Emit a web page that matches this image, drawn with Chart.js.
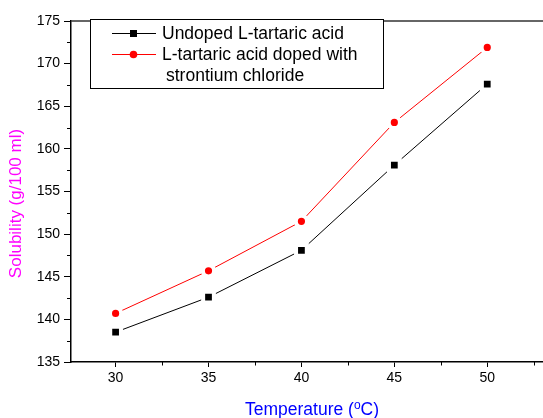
<!DOCTYPE html>
<html>
<head>
<meta charset="utf-8">
<script src="https://cdn.jsdelivr.net/npm/chart.js@4"></script>
<style>
body { margin: 0; background: #fff; }
#wrap { width: 543px; height: 418px; }
</style>
</head>
<body>
<div id="wrap"><canvas id="solChart" width="543" height="418"></canvas></div>
<script>
// Valeurs
const temperatures = [30, 35, 40, 45, 50];
const undoped = [138.5, 142.6, 148.1, 158.1, 167.6];
const doped = [140.7, 145.7, 151.5, 163.1, 171.9];
const seriesNames = ['Undoped L-tartaric acid', 'L-tartaric acid doped with', 'strontium chloride'];
const xTicks = [30, 35, 40, 45, 50];
const yTicks = [135, 140, 145, 150, 155, 160, 165, 170, 175];
const xMinor = [32.5, 37.5, 42.5, 47.5, 52.5];
const yMinor = [137.5, 142.5, 147.5, 152.5, 157.5, 162.5, 167.5, 172.5];

const FONT = '"Liberation Sans", Arial, sans-serif';

const toPoints = ys => temperatures.map((t, i) => ({x: t, y: ys[i]}));

// Petits traits, titres des axes et légende
const decor = {
    id: 'decor',
    afterDraw(chart) {
        const ctx = chart.ctx;
        const area = chart.chartArea;
        const xs = chart.scales.x, ys = chart.scales.y;
        ctx.save();

        // graduations secondaires
        ctx.strokeStyle = '#000';
        ctx.lineWidth = 1;
        xMinor.forEach(v => {
            const px = Math.round(xs.getPixelForValue(v)) + 0.5;
            ctx.beginPath();
            ctx.moveTo(px, area.bottom);
            ctx.lineTo(px, area.bottom + 3.5);
            ctx.stroke();
        });
        yMinor.forEach(v => {
            const py = Math.round(ys.getPixelForValue(v)) + 0.5;
            ctx.beginPath();
            ctx.moveTo(area.left, py);
            ctx.lineTo(area.left - 4, py);
            ctx.stroke();
        });

        // trait du haut
        ctx.strokeStyle = '#333';
        ctx.lineWidth = 1.5;
        ctx.beginPath();
        ctx.moveTo(area.left, area.top);
        ctx.lineTo(chart.width, area.top);
        ctx.stroke();

        // titre Y
        ctx.save();
        ctx.translate(16.5, 203.5);
        ctx.rotate(-Math.PI / 2);
        ctx.fillStyle = '#ff00ff';
        ctx.font = '17px ' + FONT;
        ctx.textAlign = 'center';
        ctx.textBaseline = 'middle';
        ctx.fillText('Solubility (g/100 ml)', 0, 0);
        ctx.restore();

        // titre X avec exposant
        ctx.fillStyle = '#0000ff';
        ctx.textBaseline = 'alphabetic';
        ctx.textAlign = 'left';
        const big = '17.5px ' + FONT, small = '12px ' + FONT;
        ctx.font = big;
        const w1 = ctx.measureText('Temperature (').width;
        const w3 = ctx.measureText('C)').width;
        ctx.font = small;
        const w2 = ctx.measureText('o').width;
        let x0 = 312 - (w1 + w2 + w3) / 2;
        const base = 415;
        ctx.font = big;
        ctx.fillText('Temperature (', x0, base);
        ctx.font = small;
        ctx.fillText('o', x0 + w1, base - 6.5);
        ctx.font = big;
        ctx.fillText('C)', x0 + w1 + w2, base);

        // légende
        ctx.fillStyle = '#fff';
        ctx.fillRect(90, 19, 293, 69);
        ctx.strokeStyle = '#000';
        ctx.lineWidth = 1;
        ctx.strokeRect(90.5, 19.5, 293, 69);

        ctx.lineWidth = 1;
        ctx.strokeStyle = '#000';
        ctx.beginPath();
        ctx.moveTo(112, 33.5);
        ctx.lineTo(156, 33.5);
        ctx.stroke();
        ctx.fillStyle = '#000';
        ctx.fillRect(130, 30, 7, 7);

        ctx.strokeStyle = '#ff0000';
        ctx.beginPath();
        ctx.moveTo(112, 54.5);
        ctx.lineTo(156, 54.5);
        ctx.stroke();
        ctx.fillStyle = '#ff0000';
        ctx.beginPath();
        ctx.arc(133.5, 54.5, 3.8, 0, Math.PI * 2);
        ctx.fill();

        ctx.fillStyle = '#000';
        ctx.font = '17.5px ' + FONT;
        ctx.textBaseline = 'middle';
        ctx.fillText(seriesNames[0], 162, 34);
        ctx.fillText(seriesNames[1], 162, 55);
        ctx.fillText(seriesNames[2], 166, 76);

        ctx.restore();
    }
};

const ctx = document.getElementById('solChart').getContext('2d');
const solChart = new Chart(ctx, {
    type: 'line',
    data: {
        datasets: [{
            label: seriesNames[0],
            data: toPoints(undoped),
            borderColor: '#000',
            borderWidth: 1,
            backgroundColor: '#000',
            pointStyle: 'rect',
            pointRadius: 7.6,
            pointBorderColor: '#fff',
            pointBorderWidth: 4,
            pointBackgroundColor: '#000',
            tension: 0
        }, {
            label: seriesNames[1] + ' ' + seriesNames[2],
            data: toPoints(doped),
            borderColor: '#ff0000',
            borderWidth: 1,
            backgroundColor: '#ff0000',
            pointStyle: 'circle',
            pointRadius: 5.6,
            pointBorderColor: '#fff',
            pointBorderWidth: 4,
            pointBackgroundColor: '#ff0000',
            tension: 0
        }]
    },
    options: {
        responsive: false,
        animation: false,
        layout: { autoPadding: false, padding: { top: 21, right: 0, left: 0, bottom: 0 } },
        plugins: {
            legend: { display: false },
            tooltip: { enabled: false }
        },
        scales: {
            x: {
                type: 'linear',
                min: 27.6,
                max: 53,
                afterBuildTicks: s => { s.ticks = xTicks.map(v => ({value: v})); },
                afterFit: s => { s.height = 56; s.paddingLeft = 0; s.paddingRight = 0; },
                grid: { drawOnChartArea: false, tickLength: 5, color: '#000', tickWidth: 1 },
                border: { display: true, color: '#000', width: 1.5 },
                ticks: { color: '#000', font: { family: FONT, size: 14 }, padding: 3, maxRotation: 0 }
            },
            y: {
                min: 135,
                max: 175,
                afterBuildTicks: s => { s.ticks = yTicks.map(v => ({value: v})); },
                afterFit: s => { s.width = 71; s.paddingTop = 0; s.paddingBottom = 0; },
                grid: { drawOnChartArea: false, tickLength: 7, color: '#000', tickWidth: 1 },
                border: { display: true, color: '#000', width: 1.5 },
                ticks: { color: '#000', font: { family: FONT, size: 14 }, padding: 4 }
            }
        }
    },
    plugins: [decor]
});
</script>
</body>
</html>
